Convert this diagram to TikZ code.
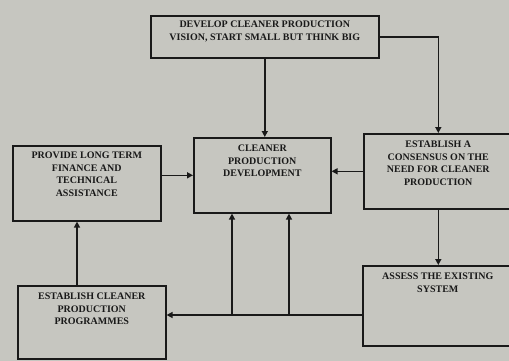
\documentclass[tikz,border=0pt]{standalone}
\usepackage{fontspec}
\setmainfont{Liberation Serif}
\usetikzlibrary{arrows.meta}
\definecolor{paper}{RGB}{198,198,192}
\definecolor{ink}{RGB}{25,25,25}
\tikzset{
  box/.style={draw=ink, line width=1.6pt, anchor=north west, inner sep=0pt},
  txt/.style={anchor=north, align=center, text=ink, inner sep=0pt, yshift=-8pt,
    font=\bfseries\fontsize{10}{12.5}\selectfont},
  arr/.style={draw=ink, line width=1.6pt, -{Triangle[length=6pt,width=6pt]}}
}

\begin{document}
\begin{tikzpicture}[x=1pt,y=-1pt]
\fill[paper] (0,0) rectangle (509,361);
\useasboundingbox (0,0) rectangle (509,361);
\clip (0,0) rectangle (509,361);

% boxes
\node[box, minimum width=228pt, minimum height=42pt] (vis) at (150,15) {};
\node[box, minimum width=148pt, minimum height=75pt] (ltf) at (12,145) {};
\node[box, minimum width=137pt, minimum height=75pt] (cpd) at (193,137) {};
\node[box, minimum width=149pt, minimum height=75pt] (est) at (363,133) {};
\node[box, minimum width=150pt, minimum height=80pt] (ase) at (362,265) {};
\node[box, minimum width=148pt, minimum height=73pt] (prog) at (17,285) {};

% texts
\node[txt, yshift=2pt] (vist) at (vis.north) {DEVELOP CLEANER PRODUCTION\\VISION, START SMALL BUT THINK BIG};
\node[txt, yshift=1pt] (ltft) at (ltf.north) {PROVIDE LONG TERM\\FINANCE AND\\TECHNICAL\\ASSISTANCE};
\node[txt] (cpdt) at (cpd.north) {CLEANER\\PRODUCTION\\DEVELOPMENT};
\node[txt] (estt) at (est.north) {ESTABLISH A\\CONSENSUS ON THE\\NEED FOR CLEANER\\PRODUCTION};
\node[txt] (aset) at (ase.north) {ASSESS THE EXISTING\\SYSTEM};
\node[txt] (progt) at (prog.north) {ESTABLISH CLEANER\\PRODUCTION\\PROGRAMMES};

% connectors
\coordinate (up) at (77,0);
\coordinate (bus) at (0,315);
\draw[arr] (vis.south) -- (vis.south |- cpd.north);
\draw[arr] (vis.east) -| (est.north);
\draw[arr] (est.west) -- (cpd.east |- est.west);
\draw[arr] (ltf.east |- cpd.west) -- (cpd.west);
\draw[arr] (est.south) -- (est.south |- ase.north);
\draw[arr] (prog.north -| up) -- (ltf.south -| up);
\draw[arr] (ase.west |- bus) -- (prog.east |- bus);
\foreach \x [count=\i] in {232,289}{
	\coordinate (f\i) at (\x,315);
	\draw[arr] (f\i) -- (f\i |- cpd.south);
}
\end{tikzpicture}
\end{document}
